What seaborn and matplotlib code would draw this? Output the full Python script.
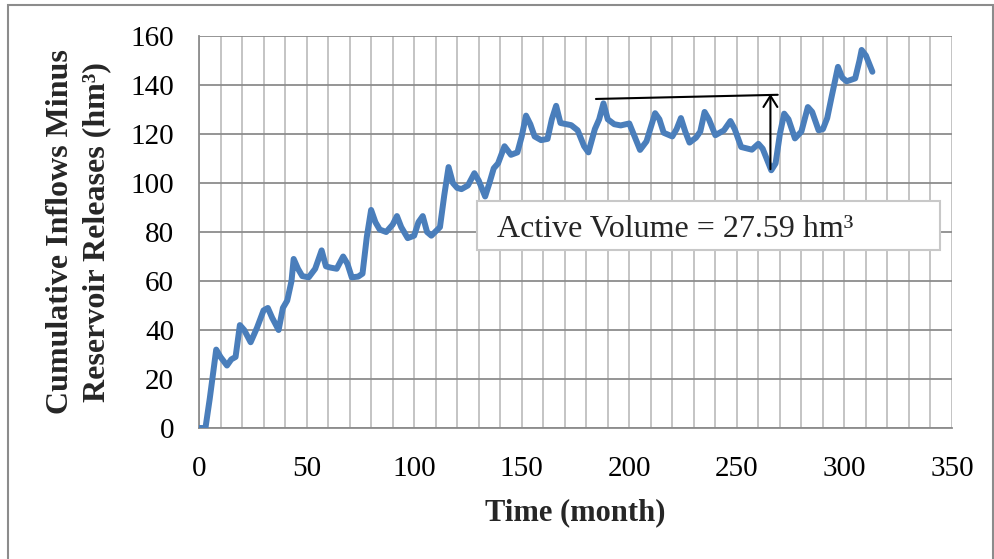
import matplotlib
matplotlib.use("Agg")
import matplotlib.pyplot as plt
import seaborn as sns
import pandas as pd
from matplotlib.patches import Rectangle
from matplotlib.ticker import MultipleLocator

# ---- data ----
months = [0, 3, 5, 8, 10, 13, 15, 17, 19, 21, 24, 27, 30, 32, 34, 37, 39, 41, 43, 44,
          46, 48, 51, 54, 57, 59, 61, 64, 67, 69, 71, 74, 76, 78, 80, 82, 84, 87, 90,
          92, 94, 97, 100, 102, 104, 106, 108, 112, 114, 116, 118, 120, 122, 125, 128,
          130, 133, 135, 137, 139, 142, 145, 148, 150, 152, 154, 156, 159, 162, 164,
          166, 168, 173, 176, 179, 181, 184, 186, 188, 190, 193, 196, 200, 202, 205,
          208, 212, 214, 216, 220, 222, 224, 226, 228, 231, 233, 235, 237, 240, 244,
          247, 249, 252, 257, 260, 262, 266, 268, 270, 272, 274, 277, 280, 283, 285,
          288, 290, 292, 294, 297, 299, 301, 305, 307, 308, 310, 313]
values = [0, 0, 12, 32, 29, 25.5, 28, 29, 42, 40, 35, 41, 48, 49, 45, 40, 49, 52, 60, 69,
          65, 62, 61.5, 65, 72.5, 66, 65.5, 65, 70, 67, 61.5, 61.8, 63, 78, 89, 84, 81,
          80, 83, 86.5, 82, 77.5, 78.5, 84, 86.5, 80, 78.5, 82, 95, 106.5, 100, 98, 97.5,
          99, 104, 101, 94.5, 100, 106, 108, 115, 111.5, 112.5, 119, 127.5, 124, 119,
          117.5, 118, 126, 131.5, 124.5, 123.6, 121.5, 115, 112.5, 122, 126, 132.5,
          126, 124, 123.5, 124.3, 120, 113.5, 117, 128.5, 126, 120.5, 119, 122, 126.5,
          121, 116.5, 118.5, 121, 129, 126, 119.5, 121.5, 125.3, 122, 114.7, 113.6,
          116, 114, 105.2, 108, 120, 128.3, 126, 118.2, 121, 131, 129, 121.5, 122,
          126.5, 135, 147.4, 143, 141.5, 142.7, 150, 154.3, 152, 145.4]
df = pd.DataFrame({"month": months, "volume": values})

xticks = [0, 50, 100, 150, 200, 250, 300, 350]
yticks = [0, 20, 40, 60, 80, 100, 120, 140, 160]
annotation_text = "Active Volume = 27.59 hm³"
x_label = "Time (month)"
y_label = "Cumulative Inflows Minus\nReservoir Releases (hm³)"

sns.set_style("white")
plt.rcParams["font.family"] = ["Liberation Serif", "DejaVu Serif"]

fig = plt.figure(figsize=(9.95, 5.59), dpi=100)
ax = fig.add_axes([199 / 995, 131 / 559, 753 / 995, 392 / 559])

sns.lineplot(data=df, x="month", y="volume", ax=ax, color="#4a7ebb",
             linewidth=4.3, solid_joinstyle="round", solid_capstyle="round",
             zorder=5)

ax.set_xlim(0, 350)
ax.set_ylim(0, 160)
ax.set_xticks(xticks)
ax.set_yticks(yticks)
ax.xaxis.set_minor_locator(MultipleLocator(10))
ax.grid(True, which="major", axis="y", color="#8c8c8c", linewidth=1.3)
ax.grid(True, which="both", axis="x", color="#bfbfbf", linewidth=1.3)
ax.set_axisbelow(True)
for s in ["top", "right"]:
    ax.spines[s].set_visible(False)
for s in ["left", "bottom"]:
    ax.spines[s].set_color("#8c8c8c")
    ax.spines[s].set_linewidth(1.3)
ax.tick_params(axis="both", which="major", direction="out", length=8, width=1.3,
               color="#8c8c8c", labelsize=21, labelcolor="black")
ax.tick_params(axis="x", which="major", pad=12)
ax.tick_params(axis="y", which="major", pad=10)
ax.tick_params(axis="x", which="minor", length=0)

ax.set_xlabel(x_label, fontsize=22, fontweight="bold", labelpad=12)
ax.set_ylabel(y_label, fontsize=23, fontweight="bold", labelpad=14, linespacing=1.3)

# annotation lines and arrow
ax.plot([184.5, 269], [134.3, 136], color="black", linewidth=1.5, zorder=6)
ax.annotate("", xy=(265.6, 137.5), xytext=(265.6, 104.5),
            arrowprops=dict(arrowstyle="->,head_length=0.8,head_width=0.5",
                            color="black", lw=1.5), zorder=6)

# text box
ax.add_patch(Rectangle((129.2, 72.8), 215.3, 19.7, facecolor="white",
                       edgecolor="#c8c8c8", linewidth=1.5, zorder=7))
ax.text(138.5, 81.2, annotation_text, fontsize=23, ha="left", va="center", zorder=8)

# chart-area border
fig.add_artist(Rectangle((8 / 995, -0.01), 985 / 995, 1 - 5 / 559 + 0.01,
                         transform=fig.transFigure, fill=False,
                         edgecolor="#8c8c8c", linewidth=1.5))

fig.savefig("out.png", dpi=100)
